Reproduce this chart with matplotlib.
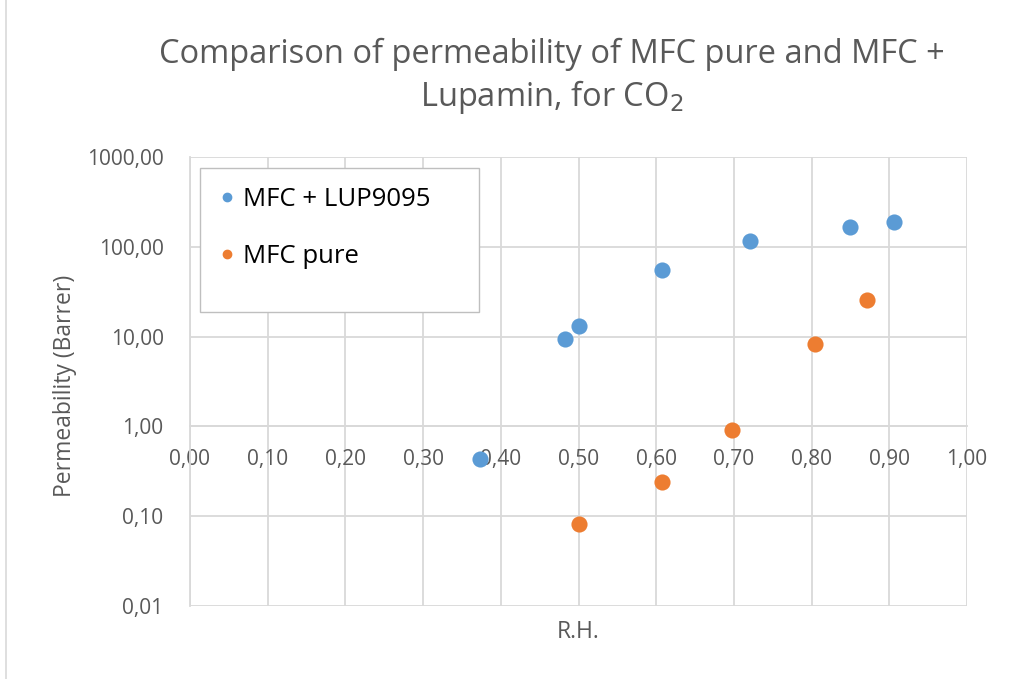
import matplotlib
matplotlib.use("Agg")
import matplotlib.pyplot as plt
from matplotlib.ticker import FixedLocator, FuncFormatter, NullLocator
from matplotlib.lines import Line2D
from matplotlib.patches import Rectangle

plt.rcParams['font.family'] = ['Open Sans', 'DejaVu Sans']

# Data
rh_lup = [0.373, 0.482, 0.500, 0.607, 0.721, 0.849, 0.906]
perm_lup = [0.43, 9.3, 13.2, 55.6, 117, 167, 190]
rh_pure = [0.500, 0.607, 0.698, 0.805, 0.871]
perm_pure = [0.081, 0.242, 0.92, 8.3, 25.8]
series_names = ["MFC + LUP9095", "MFC pure"]
x_ticks = [0.0, 0.1, 0.2, 0.3, 0.4, 0.5, 0.6, 0.7, 0.8, 0.9, 1.0]
y_ticks = [0.01, 0.1, 1, 10, 100, 1000]

blue = '#5b9bd5'
orange = '#ed7d31'
grid_c = '#d9d9d9'
text_c = '#595959'

W, H = 1010, 679
fig = plt.figure(figsize=(W/100, H/100), dpi=100)
ax = fig.add_axes([190/W, 1-606/H, 777/W, 449/H])

ax.set_yscale('log')
ax.set_xlim(0, 1)
ax.set_ylim(0.01, 1000)

ax.scatter(rh_lup, perm_lup, s=135, color=blue, zorder=3, linewidths=0)
ax.scatter(rh_pure, perm_pure, s=135, color=orange, zorder=3, linewidths=0)

ax.xaxis.set_major_locator(FixedLocator(x_ticks))
ax.yaxis.set_major_locator(FixedLocator(y_ticks))
ax.yaxis.set_minor_locator(NullLocator())
ax.xaxis.set_major_formatter(FuncFormatter(lambda v, p: f"{v:.2f}".replace('.', ',')))
ax.yaxis.set_major_formatter(FuncFormatter(lambda v, p: f"{v:.2f}".replace('.', ',')))

ax.grid(True, color=grid_c, linewidth=1.3, zorder=0)
ax.set_axisbelow(True)
for s in ['top', 'right']:
    ax.spines[s].set_visible(False)
ax.spines['left'].set_color(grid_c)
ax.spines['left'].set_linewidth(1.3)
ax.spines['bottom'].set_position(('data', 1))
ax.spines['bottom'].set_color(grid_c)
ax.spines['bottom'].set_linewidth(1.3)

ax.tick_params(axis='both', length=0, labelsize=15, labelcolor=text_c)
ax.tick_params(axis='x', pad=16.5)
ax.tick_params(axis='y', pad=19)

fig.text(65/W, 1-386/H, "Permeability (Barrer)", rotation=90, ha='center', va='center',
         fontsize=16.5, color=text_c)
fig.text(578/W, 1-632/H, "R.H.", ha='center', va='center', fontsize=16.5, color=text_c)

fig.text(552/W, 1-54/H, "Comparison of permeability of MFC pure and MFC +",
         ha='center', va='center', fontsize=23.5, color=text_c)
fig.text(552/W, 1-97/H, "Lupamin, for CO$_2$",
         ha='center', va='center', fontsize=23.5, color=text_c)

# legend frame
fig.add_artist(Rectangle((200/W, 1-312/H), 279/W, 144/H, transform=fig.transFigure,
                         facecolor='white', edgecolor='#bfbfbf', linewidth=1.0, zorder=4))
handles = [Line2D([], [], marker='o', linestyle='', color=blue, markersize=6),
           Line2D([], [], marker='o', linestyle='', color=orange, markersize=6)]
leg = fig.legend(handles, series_names, loc='center left',
                 bbox_to_anchor=(219/W, 1-228/H), bbox_transform=fig.transFigure,
                 fontsize=18.5, frameon=False,
                 handlelength=0.6, handletextpad=0.33, labelspacing=1.25,
                 borderpad=0, borderaxespad=0)
leg.set_zorder(10)
for t in leg.get_texts():
    t.set_color('#000000')

fig.add_artist(Line2D([6/W, 6/W], [0, 1], transform=fig.transFigure,
                      color=grid_c, linewidth=1.2))

fig.savefig("out.png", dpi=100)
